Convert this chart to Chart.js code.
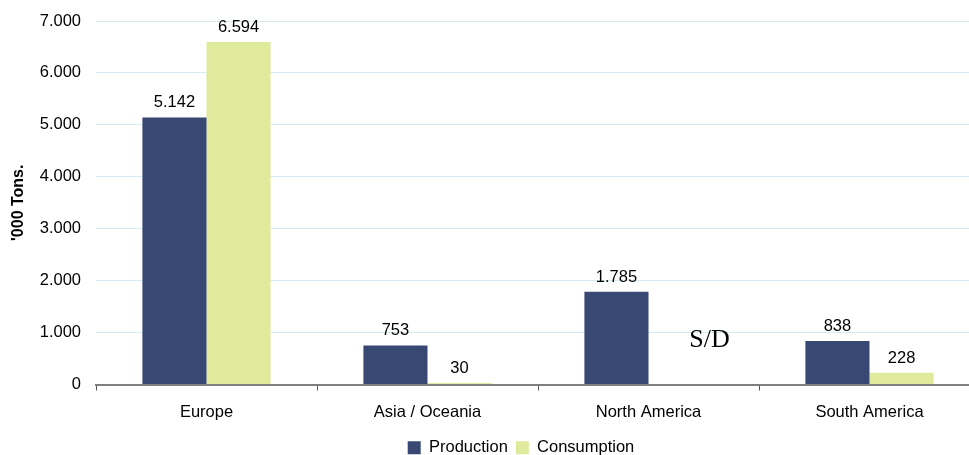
<!DOCTYPE html>
<html>
<head>
<meta charset="utf-8">
<script src="https://cdn.jsdelivr.net/npm/chart.js@4/dist/chart.umd.min.js"></script>
<style>
  html, body { margin: 0; padding: 0; background: #fff; }
  #wrap { width: 969px; height: 455px; overflow: hidden; position: relative; }
  canvas { display: block; }
</style>
</head>
<body>
<div id="wrap"><canvas id="c" width="1044" height="466"></canvas></div>
<script>
const categories = ['Europe', 'Asia / Oceania', 'North America', 'South America'];
const production = [5142, 753, 1785, 838];
const consumption = [6594, 30, null, 228];
const seriesNames = ['Production', 'Consumption'];
const yTicks = [0, 1000, 2000, 3000, 4000, 5000, 6000, 7000];
const missingLabel = 'S/D';
const axisTitle = "'000 Tons.";

const FONT = '"Liberation Sans", Arial, sans-serif';
function fmt(v) {
  return String(v).replace(/\B(?=(\d{3})+(?!\d))/g, '.');
}

const labelPlugin = {
  id: 'barLabels',
  afterDatasetsDraw(chart) {
    const ctx = chart.ctx;
    ctx.save();
    ctx.fillStyle = '#000';
    ctx.textAlign = 'center';
    ctx.textBaseline = 'alphabetic';
    chart.data.datasets.forEach((ds, di) => {
      const meta = chart.getDatasetMeta(di);
      meta.data.forEach((bar, i) => {
        const v = ds.data[i];
        if (v === null || v === undefined) {
          const yS = chart.scales.y;
          ctx.font = '26px "Liberation Serif", "Times New Roman", serif';
          ctx.textBaseline = 'middle';
          ctx.fillText(missingLabel, bar.x + 29, yS.getPixelForValue(850));
          ctx.textBaseline = 'alphabetic';
          return;
        }
        ctx.font = '16.5px ' + FONT;
        ctx.fillText(fmt(v), bar.x, bar.y - 10);
      });
    });
    ctx.restore();
  }
};

const legendShift = {
  id: 'legendShift',
  afterLayout(chart) {
    const L = chart.legend;
    if (L) { L.left += 31; L.right += 31; }
  }
};

new Chart(document.getElementById('c'), {
  type: 'bar',
  data: {
    labels: categories,
    datasets: [
      { label: seriesNames[0], data: production, backgroundColor: '#394872', borderWidth: 0 },
      { label: seriesNames[1], data: consumption, backgroundColor: '#dfea9c', borderWidth: 0 }
    ]
  },
  options: {
    responsive: false,
    animation: false,
    devicePixelRatio: 1,
    layout: { padding: { left: 0, right: 64, top: 21, bottom: 0 } },
    datasets: { bar: { categoryPercentage: 0.58, barPercentage: 1.0 } },
    plugins: {
      legend: {
        position: 'bottom',
        labels: {
          font: { family: FONT, size: 16.5 },
          color: '#000',
          boxWidth: 13,
          boxHeight: 13,
          padding: 8
        }
      },
      tooltip: { enabled: false }
    },
    scales: {
      x: {
        grid: { display: true, drawOnChartArea: false, drawTicks: true, offset: true, tickLength: 6, color: '#555', lineWidth: 1 },
        border: { display: true, color: '#808080', width: 2 },
        ticks: { font: { family: FONT, size: 16.5 }, color: '#000', padding: 12, maxRotation: 0 },
        afterFit(s) { s.height = 47; }
      },
      y: {
        min: 0,
        max: 7000,
        afterBuildTicks(s) { s.ticks = yTicks.map(v => ({ value: v })); },
        grid: { color: '#d9ebf2', lineWidth: 1, drawTicks: false },
        border: { display: false },
        ticks: { font: { family: FONT, size: 16.5 }, color: '#000', padding: 15, callback: v => fmt(v) },
        title: { display: true, text: axisTitle, font: { family: FONT, size: 16, weight: 'bold' }, color: '#000', padding: { top: 9, bottom: 4 } },
        afterFit(s) { s.width = 96; s.paddingTop = 0; s.paddingBottom = 0; }
      }
    }
  },
  plugins: [labelPlugin, legendShift]
});
</script>
</body>
</html>
